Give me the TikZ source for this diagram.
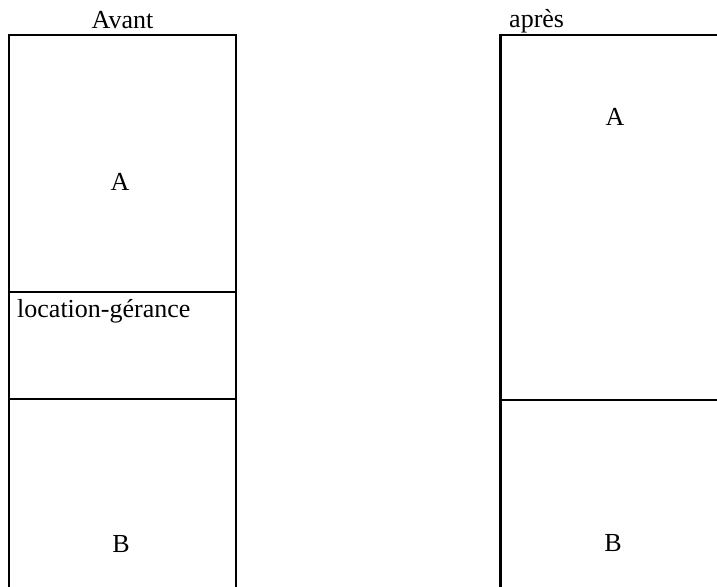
\documentclass[tikz,border=0pt]{standalone}
\usepackage{fontspec}
\setmainfont{Liberation Serif}
\begin{document}
\begin{tikzpicture}[x=1pt,y=-1pt,
  box/.style={line width=2.4pt},
  lbl/.style={inner sep=0pt,anchor=base,font=\fontsize{26}{30}\selectfont}]
\useasboundingbox (0,0) rectangle (717,586);
% left column
\coordinate (L1) at (9,600);
\coordinate (L2) at (9,35);
\coordinate (L3) at (236,35);
\coordinate (L4) at (236,600);
\draw[box] (L1) -- (L2) -- (L3) -- (L4);
\coordinate (D1a) at (9,292); \coordinate (D1b) at (236,292);
\coordinate (D2a) at (9,399); \coordinate (D2b) at (236,399);
\draw[box] (D1a) -- (D1b);
\draw[box] (D2a) -- (D2b);
% right column
\coordinate (R1) at (500.5,600);
\coordinate (R2) at (500.5,35);
\coordinate (R3) at (730,35);
\draw[box] (R1) -- (R2) -- (R3);
\coordinate (R4a) at (500.5,400); \coordinate (R4b) at (730,400);
\draw[box] (R4a) -- (R4b);
% labels
\node[lbl] (avant) at (122.5,29) {Avant};
\node[lbl,anchor=base west] (apres) at (509,28) {après};
\node[lbl] (aL) at (120,190) {A};
\node[lbl,anchor=base west] (loc) at (17,317) {location-gérance};
\node[lbl] (bL) at (121,552) {B};
\node[lbl] (aR) at (615,125) {A};
\node[lbl] (bR) at (613,551) {B};
\end{tikzpicture}
\end{document}
